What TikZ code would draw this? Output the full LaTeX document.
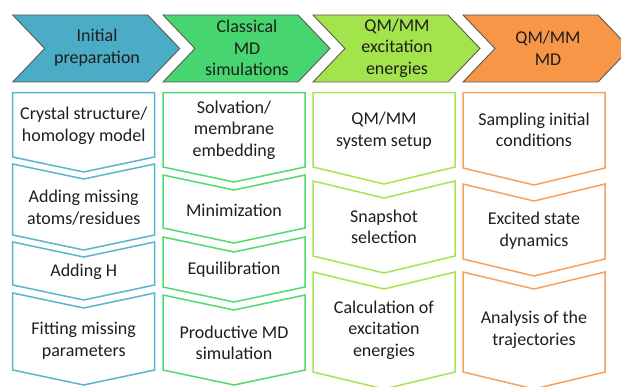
\documentclass[tikz,border=0pt]{standalone}
\usepackage{fontspec}
\setmainfont{Carlito}
\definecolor{cBlue}{HTML}{4BACC6}
\definecolor{cGreen}{HTML}{47D56F}
\definecolor{cLime}{HTML}{A3E34B}
\definecolor{cOrange}{HTML}{F79646}
\definecolor{lBlue}{HTML}{5AB4CF}
\definecolor{lGreen}{HTML}{4FDA6C}
\definecolor{lLime}{HTML}{A8E352}
\definecolor{lOrange}{HTML}{F9A05F}
\definecolor{edgeGray}{HTML}{5A5A5A}
\definecolor{txt}{HTML}{1E1E1E}
\tikzset{
  head/.style={draw=edgeGray, line width=0.9pt, line join=miter},
  stepbox/.style={line width=1.5pt, fill=white, line join=miter},
  lbl/.style={align=center, inner sep=0pt, text=txt, font=\fontsize{18}{21.6}\selectfont},
}
% header chevron: #1 left x, #2 fill
\newcommand{\headchev}[2]{%
  \fill[#2] (#1,15) -- ++(135,0) -- ++(32,33.5) -- ++(-32,33.5) -- ++(-135,0) -- ++(32,-33.5) -- cycle;
  \draw[head] (#1,15) -- ++(135,0) -- ++(32,33.5) -- ++(-32,33.5) -- ++(-135,0) -- ++(32,-33.5) -- cycle;
}
% box with flat top: #1 left, #2 top, #3 bottom sides, #4 depth, #5 colour
\newcommand{\flatbox}[5]{%
  \draw[stepbox, draw=#5] (#1,#2) -- ++(142,0) -- (#1+142,#3) -- (#1+71,#3+#4) -- (#1,#3) -- cycle;
}
% box with notched top: #1 left, #2 top sides, #3 bottom sides, #4 depth, #5 colour
\newcommand{\notchbox}[5]{%
  \draw[stepbox, draw=#5] (#1,#2) -- (#1+71,#2+#4) -- (#1+142,#2) -- (#1+142,#3) -- (#1+71,#3+#4) -- (#1,#3) -- cycle;
}
\begin{document}
\begin{tikzpicture}[x=1pt,y=-1pt]
\useasboundingbox (0,0) rectangle (621,387);
\clip (0,0) rectangle (621,387);
% headers
\headchev{12.7}{cBlue}
\headchev{163}{cGreen}
\headchev{313}{cLime}
\headchev{463}{cOrange}
\node[lbl] (h1) at (97,48) {Initial\\preparation};
\node[lbl] (h2) at (247,48) {Classical\\MD\\simulations};
\node[lbl] (h3) at (397,48) {QM/MM\\excitation\\energies};
\node[lbl] (h4) at (548,48) {QM/MM\\MD};
% column 1
\flatbox{12.7}{92.7}{157}{15}{lBlue}
\notchbox{12.7}{164}{235}{15}{lBlue}
\notchbox{12.7}{242}{285}{15}{lBlue}
\notchbox{12.7}{293}{370}{15}{lBlue}
\node[lbl] (a1) at (83.7,126) {Crystal structure/\\homology model};
\node[lbl] (a2) at (83.7,207.5) {Adding missing\\atoms/residues};
\node[lbl] (a3) at (83.7,271.5) {Adding H};
\node[lbl] (a4) at (83.7,341) {Fitting missing\\parameters};
% column 2
\flatbox{163}{92.7}{167}{15}{lGreen}
\notchbox{163}{175}{228}{15}{lGreen}
\notchbox{163}{237}{287}{15}{lGreen}
\notchbox{163}{295}{370}{15}{lGreen}
\node[lbl] (b1) at (234,130) {Solvation/\\membrane\\embedding};
\node[lbl] (b2) at (234,210) {Minimization};
\node[lbl] (b3) at (234,270) {Equilibration};
\node[lbl] (b4) at (234,343) {Productive MD\\simulation};
% column 3
\flatbox{313}{92.7}{167}{17}{lLime}
\notchbox{313}{181}{256}{17}{lLime}
\notchbox{313}{272}{372}{17}{lLime}
\node[lbl] (c1) at (384,131) {QM/MM\\system setup};
\node[lbl] (c2) at (384,227) {Snapshot\\selection};
\node[lbl] (c3) at (384,330) {Calculation of\\excitation\\energies};
% column 4
\flatbox{463}{92.7}{168}{17}{lOrange}
\notchbox{463}{184}{259}{17}{lOrange}
\notchbox{463}{272}{372}{17}{lOrange}
\node[lbl] (d1) at (534,130) {Sampling initial\\conditions};
\node[lbl] (d2) at (534,231) {Excited state\\dynamics};
\node[lbl] (d3) at (534,330) {Analysis of the\\trajectories};
\end{tikzpicture}
\end{document}
